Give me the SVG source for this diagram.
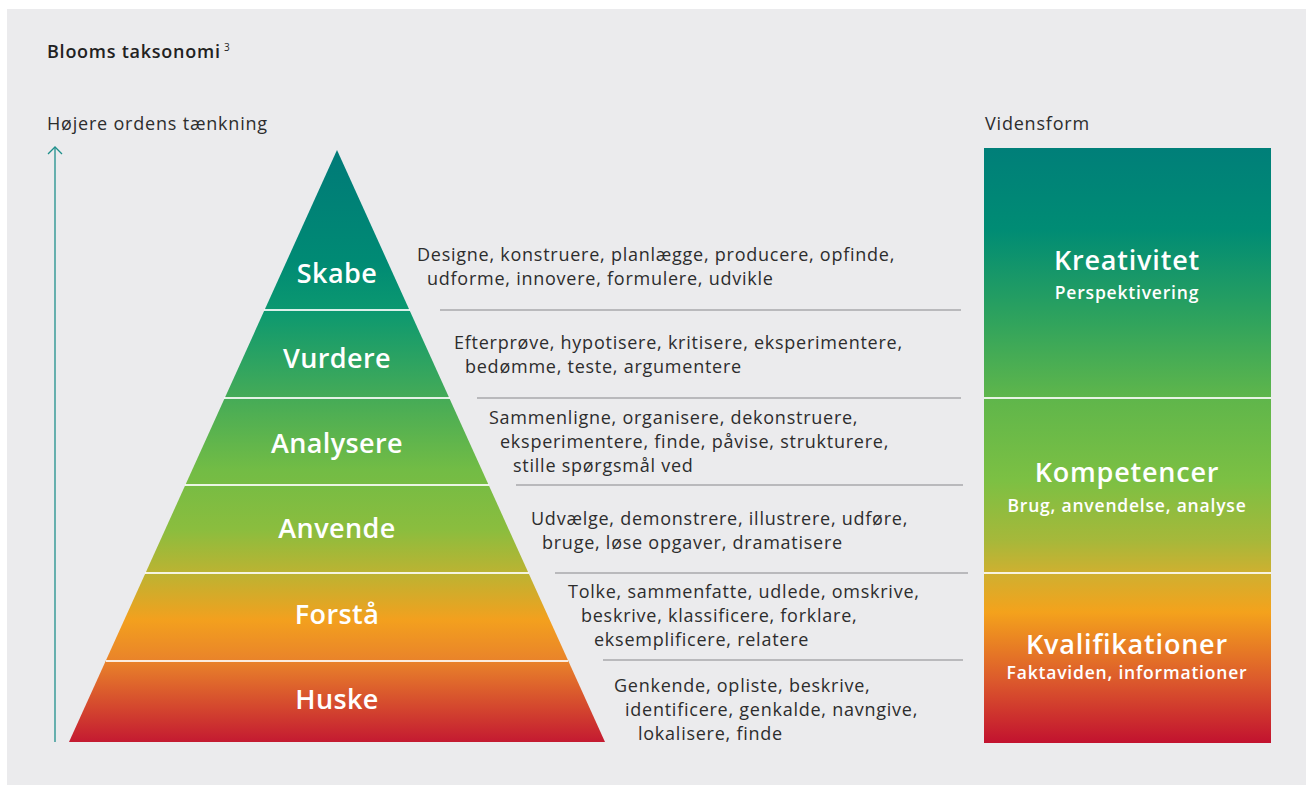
<svg xmlns="http://www.w3.org/2000/svg" width="1306" height="785" viewBox="0 0 1306 785">
  <defs>
    <linearGradient id="gPyr" gradientUnits="userSpaceOnUse" x1="0" y1="150" x2="0" y2="742">
      <stop offset="0" stop-color="#007a78"/>
      <stop offset="0.186" stop-color="#008a74"/>
      <stop offset="0.27" stop-color="#0b9870"/>
      <stop offset="0.419" stop-color="#45ab57"/>
      <stop offset="0.54" stop-color="#72bc45"/>
      <stop offset="0.642" stop-color="#8bbd3e"/>
      <stop offset="0.715" stop-color="#bcb332"/>
      <stop offset="0.794" stop-color="#f3a01e"/>
      <stop offset="0.863" stop-color="#e9832a"/>
      <stop offset="1" stop-color="#c41a31"/>
    </linearGradient>
    <linearGradient id="gCol" gradientUnits="userSpaceOnUse" x1="0" y1="148" x2="0" y2="743">
      <stop offset="0" stop-color="#007f79"/>
      <stop offset="0.138" stop-color="#008c74"/>
      <stop offset="0.289" stop-color="#2fa35d"/>
      <stop offset="0.42" stop-color="#5fb64b"/>
      <stop offset="0.558" stop-color="#7cc043"/>
      <stop offset="0.659" stop-color="#a6b83a"/>
      <stop offset="0.714" stop-color="#cfb030"/>
      <stop offset="0.78" stop-color="#f4a21c"/>
      <stop offset="0.894" stop-color="#dc5a2c"/>
      <stop offset="1" stop-color="#c2122f"/>
    </linearGradient>
    <marker id="chev" viewBox="0 0 9 16" refX="8" refY="8" markerWidth="9" markerHeight="16" markerUnits="userSpaceOnUse" orient="auto">
      <path d="M1,1 L8,8 L1,15" fill="none" stroke="#1e8f8b" stroke-width="1.3"/>
    </marker>
  </defs>
  <style>
    text { font-family: "Open Sans", "Liberation Sans", sans-serif; }
    .desc { font-size: 18px; letter-spacing: 0.75px; fill: #2d2d2d; }
    .lvl { font-size: 27px; letter-spacing: 0.4px; fill: #ffffff; font-weight: 600; text-anchor: middle; }
    .big { font-size: 27px; letter-spacing: 0.8px; fill: #ffffff; font-weight: 600; text-anchor: middle; }
    .sub { font-size: 17.5px; letter-spacing: 0.8px; fill: #ffffff; font-weight: 600; text-anchor: middle; }
    .hdr { font-size: 18px; letter-spacing: 0.8px; fill: #2d2d2d; }
    .sep { stroke: #a9a9ab; stroke-width: 1.5; }
    .div { stroke: #ffffff; stroke-width: 2; stroke-opacity: 0.85; }
  </style>

  <rect x="0" y="0" width="1306" height="785" fill="#ffffff"/>
  <rect x="7" y="9" width="1299" height="776" fill="#ebebed"/>

  <g id="title">
    <text x="47" y="58" style="font-size:18px;letter-spacing:0.75px;font-weight:600;fill:#222">Blooms taksonomi</text>
    <text x="224" y="51" style="font-size:10px;fill:#222">3</text>
  </g>
  <g id="axis-label">
    <text class="hdr" x="47" y="130">Højere ordens tænkning</text>
  </g>
  <g id="vidensform-label">
    <text class="hdr" x="985" y="130">Vidensform</text>
  </g>

  <g id="connectors">
    <line x1="55" y1="742" x2="55" y2="147" stroke="#1e8f8b" stroke-width="1.3" marker-end="url(#chev)"/>
    <line class="sep" x1="440" y1="310" x2="961" y2="310"/>
    <line class="sep" x1="477" y1="398" x2="961" y2="398"/>
    <line class="sep" x1="516" y1="485" x2="963" y2="485"/>
    <line class="sep" x1="555" y1="573" x2="968" y2="573"/>
    <line class="sep" x1="603" y1="660" x2="963" y2="660"/>
  </g>

  <g id="pyramid">
    <polygon points="337,150 605,742 69,742" fill="url(#gPyr)"/>
    <g id="dividers">
      <line class="div" x1="264" y1="310" x2="410" y2="310"/>
      <line class="div" x1="224" y1="398" x2="450" y2="398"/>
      <line class="div" x1="185" y1="485" x2="489" y2="485"/>
      <line class="div" x1="145" y1="573" x2="529" y2="573"/>
      <line class="div" x1="106" y1="661" x2="568" y2="661"/>
    </g>
  </g>

  <g id="skabe">
    <text class="lvl" x="337" y="283">Skabe</text>
    <text class="desc" x="417" y="261">Designe, konstruere, planlægge, producere, opfinde,</text>
    <text class="desc" x="427" y="285">udforme, innovere, formulere, udvikle</text>
  </g>
  <g id="vurdere">
    <text class="lvl" x="337" y="368">Vurdere</text>
    <text class="desc" x="454" y="349">Efterprøve, hypotisere, kritisere, eksperimentere,</text>
    <text class="desc" x="465" y="373">bedømme, teste, argumentere</text>
  </g>
  <g id="analysere">
    <text class="lvl" x="337" y="453">Analysere</text>
    <text class="desc" x="489" y="424">Sammenligne, organisere, dekonstruere,</text>
    <text class="desc" x="500" y="448">eksperimentere, finde, påvise, strukturere,</text>
    <text class="desc" x="513" y="472">stille spørgsmål ved</text>
  </g>
  <g id="anvende">
    <text class="lvl" x="337" y="538">Anvende</text>
    <text class="desc" x="531" y="525">Udvælge, demonstrere, illustrere, udføre,</text>
    <text class="desc" x="542" y="549">bruge, løse opgaver, dramatisere</text>
  </g>
  <g id="forsta">
    <text class="lvl" x="337" y="624">Forstå</text>
    <text class="desc" x="568" y="598">Tolke, sammenfatte, udlede, omskrive,</text>
    <text class="desc" x="581" y="622">beskrive, klassificere, forklare,</text>
    <text class="desc" x="594" y="646">eksemplificere, relatere</text>
  </g>
  <g id="huske">
    <text class="lvl" x="337" y="709">Huske</text>
    <text class="desc" x="614" y="692">Genkende, opliste, beskrive,</text>
    <text class="desc" x="625" y="716">identificere, genkalde, navngive,</text>
    <text class="desc" x="638" y="740">lokalisere, finde</text>
  </g>

  <g id="vidensform-column">
    <rect x="984" y="148" width="287" height="595" fill="url(#gCol)"/>
    <line class="div" x1="984" y1="398" x2="1271" y2="398"/>
    <line class="div" x1="984" y1="573" x2="1271" y2="573"/>
  </g>
  <g id="kreativitet">
    <text class="big" x="1127" y="270">Kreativitet</text>
    <text class="sub" x="1127" y="299">Perspektivering</text>
  </g>
  <g id="kompetencer">
    <text class="big" x="1127" y="482">Kompetencer</text>
    <text class="sub" x="1127" y="512">Brug, anvendelse, analyse</text>
  </g>
  <g id="kvalifikationer">
    <text class="big" x="1127" y="654">Kvalifikationer</text>
    <text class="sub" x="1127" y="679">Faktaviden, informationer</text>
  </g>
</svg>
